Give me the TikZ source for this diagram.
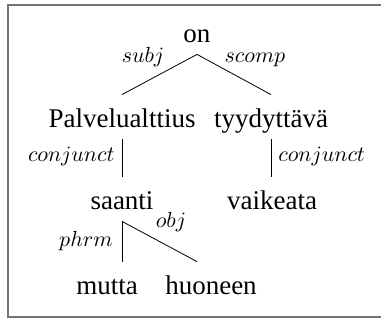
\documentclass[tikz,border=0pt]{standalone}
\usepackage{fontspec}
\setmainfont{Liberation Serif}
\tikzset{
  word/.style={anchor=base,inner sep=2pt,text height=14.5pt,text depth=3.5pt,
    font=\fontsize{13.5}{16}\selectfont},
  rel/.style={anchor=base,inner sep=0pt,font=\fontsize{10.5}{12}\selectfont},
  frame/.style={draw=black!55,line width=1pt}
}
\begin{document}
\begin{tikzpicture}[x=0.5pt,y=-0.5pt]
      \useasboundingbox (0,0) rectangle (381,320);
      \draw[frame] (381,5) -- (8,5) -- (8,317) -- (381,317);
      \draw
        (197,43) node[word] (on){on}
        (122,128) node[word] (palv){Palvelualttius}
        (271,128) node[word] (tyyd){tyydyttävä}
        (122,210) node[word] (saanti){saanti}
        (272,210) node[word] (vaik){vaikeata}
        (107,295) node[word] (mutta){mutta}
        (211,295) node[word] (huon){huoneen};
      \draw
        (143,63) node[rel] (l-subj){$subj$}
        (255,63) node[rel] (l-scomp){$scomp$}
        (115,162) node[rel,anchor=base east] (l-conj1){$conjunct$}
        (278,162) node[rel,anchor=base west] (l-conj2){$conjunct$}
        (113,247) node[rel,anchor=base east] (l-phrm){$phrm$}
        (171,228) node[rel] (l-obj){$obj$};
      \begin{scope}[-]
        \draw (on.south) to (palv.north);
        \draw (on.south) to (tyyd.north);
        \draw (palv.south) to (saanti.north);
        \draw (tyyd.south) to (tyyd.south |- vaik.north);
        \draw (saanti.south) to (saanti.south |- mutta.north);
        \draw (saanti.south) to ([xshift=-7pt]huon.north);
      \end{scope}
    \end{tikzpicture}
\end{document}
